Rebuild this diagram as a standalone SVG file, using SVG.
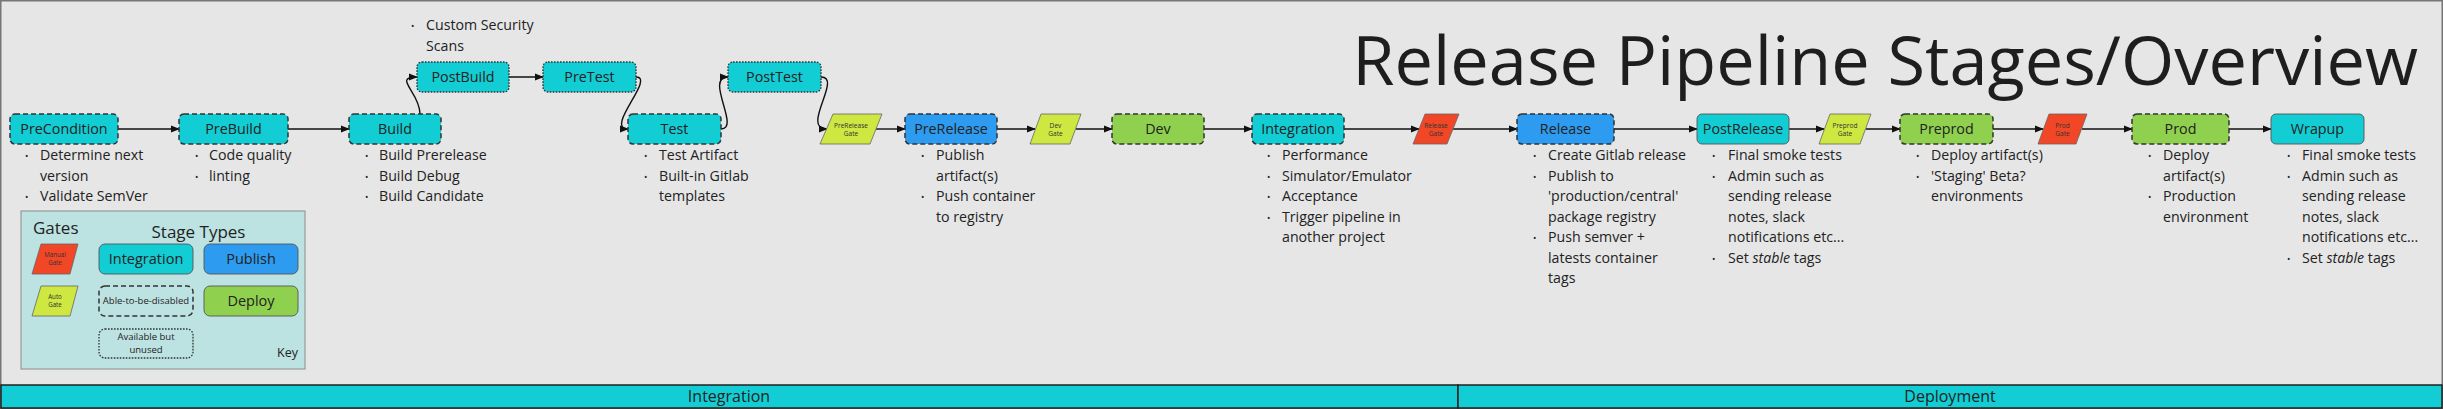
<svg xmlns="http://www.w3.org/2000/svg" width="2443" height="409" viewBox="0 0 2443 409">
<style>
text{font-family:"Open Sans","Noto Sans","Liberation Sans",sans-serif;fill:#222}
.lbl{font-size:14.3px;text-anchor:middle}
.bl{font-size:14.2px}
.bu{font-size:9px}
.gt{font-size:6.6px;text-anchor:middle;fill:#333}
.dash{stroke:#333;stroke-width:1.5;stroke-dasharray:5 3}
.dot{stroke:#333;stroke-width:1.3;stroke-dasharray:1.6 1.4}
.sol{stroke:#555;stroke-width:0.9}
.cyan{fill:#12cdd4}.blue{fill:#2d9bf0}.green{fill:#8fd14f}.red{fill:#f24726}.yellow{fill:#cee741}.none{fill:none}
.gate{stroke:#666;stroke-width:0.8}
.conn path{fill:none;stroke:#111;stroke-width:1.4;marker-end:url(#ah)}
</style>
<defs>
<marker id="ah" viewBox="0 0 10 10" refX="9" refY="5" markerWidth="9" markerHeight="9" markerUnits="userSpaceOnUse" orient="auto">
<path d="M0,1 L10,5 L0,9 Z" fill="#111"/>
</marker>
</defs>
<rect x="0" y="0" width="2443" height="409" fill="#e6e6e6"/>
<rect x="0.75" y="0.75" width="2441.5" height="407.5" fill="none" stroke="#777" stroke-width="1.5"/>

<text id="title" x="2418" y="85" style="font-size:68.5px;text-anchor:end;fill:#1e1e1e">Release Pipeline Stages/Overview</text>

<g class="conn" id="connectors">
<path d="M118,129 L179,129"/>
<path d="M288,129 L349,129"/>
<path d="M420,114 C420,92 392,77 417,77"/>
<path d="M509,77 L543,77"/>
<path d="M636,77 C656,77 604,129 628,129"/>
<path d="M721,129 C741,129 704,77 728,77"/>
<path d="M821,77 C843,77 800,129 827,129"/>
<path d="M876,129 L905,129"/>
<path d="M997,129 L1035,129"/>
<path d="M1076,129 L1112,129"/>
<path d="M1204,129 L1252,129"/>
<path d="M1344,129 L1419,129"/>
<path d="M1453,129 L1517,129"/>
<path d="M1614,129 L1697,129"/>
<path d="M1789,129 L1824,129"/>
<path d="M1866,129 L1900,129"/>
<path d="M1993,129 L2043,129"/>
<path d="M2082,129 L2132,129"/>
<path d="M2229,129 L2271,129"/>
</g>

<g id="precondition">
<rect x="10" y="114" width="108" height="30" rx="5" class="cyan dash"/>
<text x="64" y="134" class="lbl">PreCondition</text>
<text class="bl"><tspan x="40" y="160">Determine next</tspan><tspan x="40" y="180.5">version</tspan><tspan x="40" y="201">Validate SemVer</tspan></text>
<text class="bu"><tspan x="25" y="159">•</tspan><tspan x="25" y="200">•</tspan></text>
</g>

<g id="prebuild">
<rect x="179" y="114" width="109" height="30" rx="5" class="cyan dash"/>
<text x="233.5" y="134" class="lbl">PreBuild</text>
<text class="bl"><tspan x="209" y="160">Code quality</tspan><tspan x="209" y="180.5">linting</tspan></text>
<text class="bu"><tspan x="195" y="159">•</tspan><tspan x="195" y="179.5">•</tspan></text>
</g>

<g id="build">
<rect x="349" y="114" width="92" height="30" rx="5" class="cyan dash"/>
<text x="395" y="134" class="lbl">Build</text>
<text class="bl"><tspan x="379" y="160">Build Prerelease</tspan><tspan x="379" y="180.5">Build Debug</tspan><tspan x="379" y="201">Build Candidate</tspan></text>
<text class="bu"><tspan x="365" y="159">•</tspan><tspan x="365" y="179.5">•</tspan><tspan x="365" y="200">•</tspan></text>
</g>

<g id="postbuild">
<rect x="417" y="62" width="92" height="30" rx="5" class="cyan dot"/>
<text x="463" y="82" class="lbl">PostBuild</text>
<text class="bl"><tspan x="426" y="30">Custom Security</tspan><tspan x="426" y="50.5">Scans</tspan></text>
<text class="bu"><tspan x="411" y="29">•</tspan></text>
</g>

<g id="pretest">
<rect x="543" y="62" width="93" height="30" rx="5" class="cyan dot"/>
<text x="589.5" y="82" class="lbl">PreTest</text>
</g>

<g id="test">
<rect x="628" y="114" width="93" height="30" rx="5" class="cyan dash"/>
<text x="674.5" y="134" class="lbl">Test</text>
<text class="bl"><tspan x="659" y="160">Test Artifact</tspan><tspan x="659" y="180.5">Built-in Gitlab</tspan><tspan x="659" y="201">templates</tspan></text>
<text class="bu"><tspan x="644" y="159">•</tspan><tspan x="644" y="179.5">•</tspan></text>
</g>

<g id="posttest">
<rect x="728" y="62" width="93" height="30" rx="5" class="cyan dot"/>
<text x="774.5" y="82" class="lbl">PostTest</text>
</g>

<g id="prerelease-gate">
<polygon points="833,114 882,114 870,144 820,144" class="yellow gate"/>
<text class="gt"><tspan x="851" y="127.5">PreRelease</tspan><tspan x="851" y="135.5">Gate</tspan></text>
</g>

<g id="prerelease">
<rect x="905" y="114" width="92" height="30" rx="5" class="blue dash"/>
<text x="951" y="134" class="lbl">PreRelease</text>
<text class="bl"><tspan x="936" y="160">Publish</tspan><tspan x="936" y="180.5">artifact(s)</tspan><tspan x="936" y="201">Push container</tspan><tspan x="936" y="221.5">to registry</tspan></text>
<text class="bu"><tspan x="921" y="159">•</tspan><tspan x="921" y="200">•</tspan></text>
</g>

<g id="dev-gate">
<polygon points="1041,114 1081,114 1070,144 1030,144" class="yellow gate"/>
<text class="gt"><tspan x="1055.5" y="127.5">Dev</tspan><tspan x="1055.5" y="135.5">Gate</tspan></text>
</g>

<g id="dev">
<rect x="1112" y="114" width="92" height="30" rx="5" class="green dash"/>
<text x="1158" y="134" class="lbl">Dev</text>
</g>

<g id="integration">
<rect x="1252" y="114" width="92" height="30" rx="5" class="cyan dash"/>
<text x="1298" y="134" class="lbl">Integration</text>
<text class="bl"><tspan x="1282" y="160">Performance</tspan><tspan x="1282" y="180.5">Simulator/Emulator</tspan><tspan x="1282" y="201">Acceptance</tspan><tspan x="1282" y="221.5">Trigger pipeline in</tspan><tspan x="1282" y="242">another project</tspan></text>
<text class="bu"><tspan x="1267" y="159">•</tspan><tspan x="1267" y="179.5">•</tspan><tspan x="1267" y="200">•</tspan><tspan x="1267" y="220.5">•</tspan></text>
</g>

<g id="release-gate">
<polygon points="1425,114 1459,114 1447,144 1413,144" class="red gate"/>
<text class="gt"><tspan x="1436" y="127.5">Release</tspan><tspan x="1436" y="135.5">Gate</tspan></text>
</g>

<g id="release">
<rect x="1517" y="114" width="97" height="30" rx="5" class="blue dash"/>
<text x="1565.5" y="134" class="lbl">Release</text>
<text class="bl"><tspan x="1548" y="160">Create Gitlab release</tspan><tspan x="1548" y="180.5">Publish to</tspan><tspan x="1548" y="201">'production/central'</tspan><tspan x="1548" y="221.5">package registry</tspan><tspan x="1548" y="242">Push semver +</tspan><tspan x="1548" y="262.5">latests container</tspan><tspan x="1548" y="283">tags</tspan></text>
<text class="bu"><tspan x="1533" y="159">•</tspan><tspan x="1533" y="179.5">•</tspan><tspan x="1533" y="241">•</tspan></text>
</g>

<g id="postrelease">
<rect x="1697" y="114" width="92" height="30" rx="5" class="cyan sol"/>
<text x="1743" y="134" class="lbl">PostRelease</text>
<text class="bl"><tspan x="1728" y="160">Final smoke tests</tspan><tspan x="1728" y="180.5">Admin such as</tspan><tspan x="1728" y="201">sending release</tspan><tspan x="1728" y="221.5">notes, slack</tspan><tspan x="1728" y="242">notifications etc...</tspan><tspan x="1728" y="262.5">Set <tspan font-style="italic">stable</tspan> tags</tspan></text>
<text class="bu"><tspan x="1712" y="159">•</tspan><tspan x="1712" y="179.5">•</tspan><tspan x="1712" y="261.5">•</tspan></text>
</g>

<g id="preprod-gate">
<polygon points="1830,114 1871,114 1860,144 1819,144" class="yellow gate"/>
<text class="gt"><tspan x="1845" y="127.5">Preprod</tspan><tspan x="1845" y="135.5">Gate</tspan></text>
</g>

<g id="preprod">
<rect x="1900" y="114" width="93" height="30" rx="5" class="green dash"/>
<text x="1946.5" y="134" class="lbl">Preprod</text>
<text class="bl"><tspan x="1931" y="160">Deploy artifact(s)</tspan><tspan x="1931" y="180.5">'Staging' Beta?</tspan><tspan x="1931" y="201">environments</tspan></text>
<text class="bu"><tspan x="1916" y="159">•</tspan><tspan x="1916" y="179.5">•</tspan></text>
</g>

<g id="prod-gate">
<polygon points="2049,114 2087,114 2076,144 2038,144" class="red gate"/>
<text class="gt"><tspan x="2062.5" y="127.5">Prod</tspan><tspan x="2062.5" y="135.5">Gate</tspan></text>
</g>

<g id="prod">
<rect x="2132" y="114" width="97" height="30" rx="5" class="green dash"/>
<text x="2180.5" y="134" class="lbl">Prod</text>
<text class="bl"><tspan x="2163" y="160">Deploy</tspan><tspan x="2163" y="180.5">artifact(s)</tspan><tspan x="2163" y="201">Production</tspan><tspan x="2163" y="221.5">environment</tspan></text>
<text class="bu"><tspan x="2148" y="159">•</tspan><tspan x="2148" y="200">•</tspan></text>
</g>

<g id="wrapup">
<rect x="2271" y="114" width="93" height="30" rx="5" class="cyan sol"/>
<text x="2317.5" y="134" class="lbl">Wrapup</text>
<text class="bl"><tspan x="2302" y="160">Final smoke tests</tspan><tspan x="2302" y="180.5">Admin such as</tspan><tspan x="2302" y="201">sending release</tspan><tspan x="2302" y="221.5">notes, slack</tspan><tspan x="2302" y="242">notifications etc...</tspan><tspan x="2302" y="262.5">Set <tspan font-style="italic">stable</tspan> tags</tspan></text>
<text class="bu"><tspan x="2287" y="159">•</tspan><tspan x="2287" y="179.5">•</tspan><tspan x="2287" y="261.5">•</tspan></text>
</g>

<g id="key">
<rect x="21" y="211" width="284" height="158" fill="#bde2e2" stroke="#999" stroke-width="1.2"/>
<text x="33" y="234" style="font-size:17px">Gates</text>
<text x="198.5" y="238" style="font-size:17px;text-anchor:middle">Stage Types</text>
<polygon points="41,244 78,244 70,274 32,274" class="red gate"/>
<text class="gt" style="font-size:6.2px"><tspan x="55" y="256.5">Manual</tspan><tspan x="55" y="264.5">Gate</tspan></text>
<polygon points="41,286 78,286 70,316 32,316" class="yellow gate"/>
<text class="gt" style="font-size:6.2px"><tspan x="55" y="298.5">Auto</tspan><tspan x="55" y="306.5">Gate</tspan></text>
<rect x="99" y="244" width="94" height="30" rx="6" class="cyan sol"/>
<text x="146" y="264" class="lbl" style="font-size:14.5px">Integration</text>
<rect x="204" y="244" width="94" height="30" rx="6" class="blue sol"/>
<text x="251" y="264" class="lbl" style="font-size:14.5px">Publish</text>
<rect x="99" y="286" width="94" height="30" rx="6" class="none dash"/>
<text x="146" y="304" class="lbl" style="font-size:9.5px">Able-to-be-disabled</text>
<rect x="204" y="286" width="94" height="30" rx="6" class="green sol"/>
<text x="251" y="306" class="lbl" style="font-size:14.5px">Deploy</text>
<rect x="99" y="329" width="94" height="29" rx="6" class="none dot"/>
<text class="lbl" style="font-size:9.5px"><tspan x="146" y="339.5">Available but</tspan><tspan x="146" y="353">unused</tspan></text>
<text x="298" y="357" style="font-size:12.5px;text-anchor:end">Key</text>
</g>

<g id="lanes">
<rect x="1" y="385" width="1457" height="23" class="cyan" stroke="#222" stroke-width="1.5"/>
<rect x="1458" y="385" width="984" height="23" class="cyan" stroke="#222" stroke-width="1.5"/>
<text x="729" y="402" class="lbl" style="font-size:16px">Integration</text>
<text x="1950" y="402" class="lbl" style="font-size:16px">Deployment</text>
</g>
</svg>
